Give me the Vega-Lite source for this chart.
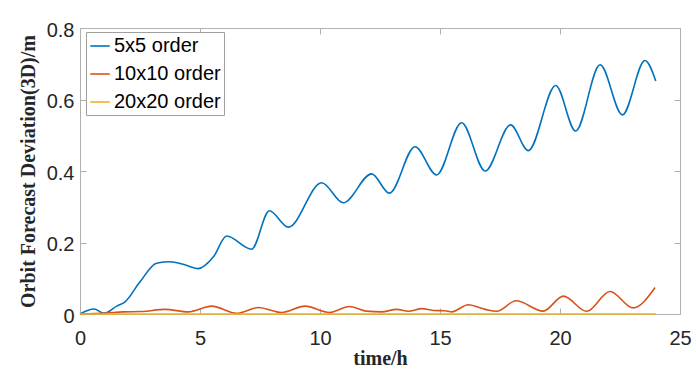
{
  "$schema": "https://vega.github.io/schema/vega-lite/v6.json",
  "width": 600,
  "height": 286,
  "autosize": {"type": "none"},
  "padding": {"left": 80, "top": 28, "right": 16, "bottom": 62},
  "background": "white",
  "config": {
    "view": {"stroke": "#b0b0b0", "strokeWidth": 1},
    "axis": {"grid": false, "labelFlush": false, "domainColor": "#b0b0b0", "tickColor": "#b0b0b0", "labelFont": "Liberation Sans", "labelFontSize": 20, "labelColor": "#262626", "titleFont": "Liberation Serif", "titleFontSize": 20, "titleFontWeight": "bold", "titleColor": "#262626"}
  },
  "data": {"values": [
    {"t":0,"v":0,"s":"5x5 order"},{"t":0.58,"v":0.014,"s":"5x5 order"},{"t":1.0,"v":0.002,"s":"5x5 order"},{"t":1.53,"v":0.022,"s":"5x5 order"},{"t":1.875,"v":0.034,"s":"5x5 order"},{"t":2.5,"v":0.09,"s":"5x5 order"},{"t":3.19,"v":0.142,"s":"5x5 order"},{"t":3.75,"v":0.146,"s":"5x5 order"},{"t":4.3,"v":0.139,"s":"5x5 order"},{"t":4.93,"v":0.127,"s":"5x5 order"},{"t":5.56,"v":0.16,"s":"5x5 order"},{"t":6.11,"v":0.218,"s":"5x5 order"},{"t":7.15,"v":0.181,"s":"5x5 order"},{"t":7.89,"v":0.289,"s":"5x5 order"},{"t":8.68,"v":0.243,"s":"5x5 order"},{"t":10.07,"v":0.367,"s":"5x5 order"},{"t":10.97,"v":0.311,"s":"5x5 order"},{"t":12.15,"v":0.392,"s":"5x5 order"},{"t":12.89,"v":0.338,"s":"5x5 order"},{"t":13.96,"v":0.468,"s":"5x5 order"},{"t":14.86,"v":0.389,"s":"5x5 order"},{"t":15.9,"v":0.535,"s":"5x5 order"},{"t":16.88,"v":0.4,"s":"5x5 order"},{"t":17.94,"v":0.529,"s":"5x5 order"},{"t":18.68,"v":0.457,"s":"5x5 order"},{"t":19.82,"v":0.639,"s":"5x5 order"},{"t":20.65,"v":0.512,"s":"5x5 order"},{"t":21.67,"v":0.697,"s":"5x5 order"},{"t":22.6,"v":0.557,"s":"5x5 order"},{"t":23.54,"v":0.709,"s":"5x5 order"},{"t":23.99,"v":0.652,"s":"5x5 order"},
    {"t":0,"v":0,"s":"10x10 order"},{"t":1.1,"v":0.003,"s":"10x10 order"},{"t":1.8,"v":0.006,"s":"10x10 order"},{"t":2.57,"v":0.007,"s":"10x10 order"},{"t":3.54,"v":0.013,"s":"10x10 order"},{"t":4.51,"v":0.006,"s":"10x10 order"},{"t":5.49,"v":0.022,"s":"10x10 order"},{"t":6.53,"v":0.002,"s":"10x10 order"},{"t":7.43,"v":0.018,"s":"10x10 order"},{"t":8.4,"v":0.004,"s":"10x10 order"},{"t":9.375,"v":0.022,"s":"10x10 order"},{"t":10.39,"v":0.004,"s":"10x10 order"},{"t":11.22,"v":0.021,"s":"10x10 order"},{"t":11.92,"v":0.008,"s":"10x10 order"},{"t":12.57,"v":0.006,"s":"10x10 order"},{"t":13.19,"v":0.013,"s":"10x10 order"},{"t":13.68,"v":0.0075,"s":"10x10 order"},{"t":14.24,"v":0.015,"s":"10x10 order"},{"t":14.72,"v":0.01,"s":"10x10 order"},{"t":15.2,"v":0.009,"s":"10x10 order"},{"t":15.49,"v":0.006,"s":"10x10 order"},{"t":16.18,"v":0.026,"s":"10x10 order"},{"t":16.88,"v":0.013,"s":"10x10 order"},{"t":17.36,"v":0.0075,"s":"10x10 order"},{"t":18.17,"v":0.037,"s":"10x10 order"},{"t":19.3,"v":0.008,"s":"10x10 order"},{"t":20.14,"v":0.05,"s":"10x10 order"},{"t":21.11,"v":0.0075,"s":"10x10 order"},{"t":22.08,"v":0.063,"s":"10x10 order"},{"t":23.05,"v":0.017,"s":"10x10 order"},{"t":23.96,"v":0.074,"s":"10x10 order"},
    {"t":0,"v":0,"s":"20x20 order"},{"t":24,"v":0,"s":"20x20 order"}
  ]},
  "resolve": {"axis": {"x": "independent", "y": "independent"}},
  "layer": [
    {
      "mark": {"type": "line", "interpolate": "monotone", "strokeWidth": 1.6},
      "encoding": {
        "x": {"field": "t", "type": "quantitative", "scale": {"domain": [0, 25], "nice": false, "zero": false},
              "axis": {"title": "time/h", "values": [0,5,10,15,20,25], "tickSize": -6, "labelPadding": 20, "titlePadding": 0, "domain": false}},
        "y": {"field": "v", "type": "quantitative", "scale": {"domain": [0, 0.8], "nice": false},
              "axis": {"title": "Orbit Forecast Deviation(3D)/m", "values": [0,0.2,0.4,0.6,0.8], "format": "~g", "tickSize": -6, "labelPadding": 12, "labelOffset": 2, "titlePadding": 8, "domain": false}},
        "color": {"field": "s", "type": "nominal",
                  "scale": {"domain": ["5x5 order", "10x10 order", "20x20 order"], "range": ["#0072BD", "#D95319", "#EDB120"]},
                  "legend": {"title": null, "orient": "none", "legendX": 6, "legendY": 4, "symbolType": "stroke", "symbolSize": 380, "symbolStrokeWidth": 1.6, "labelFont": "Liberation Sans", "labelFontSize": 20, "labelColor": "#000000", "strokeColor": "#a0a0a0", "fillColor": "white", "padding": 3, "rowPadding": 7, "labelOffset": 3, "labelLimit": 300}}
      }
    },
    {
      "mark": {"type": "line", "opacity": 0},
      "encoding": {
        "x": {"field": "t", "type": "quantitative", "scale": {"domain": [0, 25], "nice": false, "zero": false}, "axis": {"orient": "top", "title": null, "labels": false, "values": [0,5,10,15,20,25], "tickSize": -6, "domain": false}},
        "y": {"field": "v", "type": "quantitative", "scale": {"domain": [0, 0.8], "nice": false}, "axis": {"orient": "right", "title": null, "labels": false, "values": [0,0.2,0.4,0.6,0.8], "tickSize": -6, "domain": false}}
      }
    }
  ]
}
